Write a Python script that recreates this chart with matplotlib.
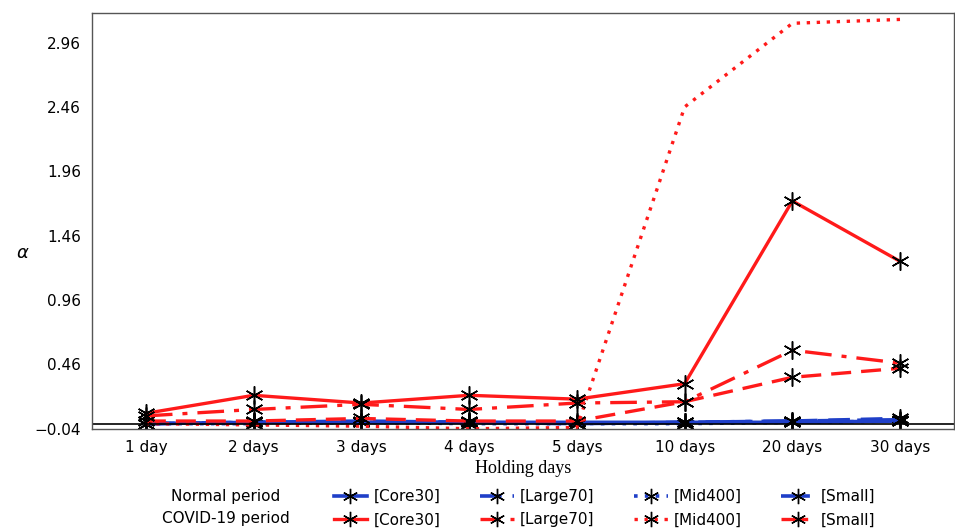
import matplotlib
matplotlib.use("Agg")
import matplotlib.pyplot as plt
from matplotlib.lines import Line2D

days = ["1 day", "2 days", "3 days", "4 days", "5 days", "10 days", "20 days", "30 days"]
series = ["[Core30]", "[Large70]", "[Mid400]", "[Small]"]

# Normal period
normal_core30 = [0.00, 0.01, 0.01, 0.01, 0.01, 0.01, 0.01, 0.02]
normal_large70 = [0.00, 0.01, 0.02, 0.01, 0.00, 0.01, 0.02, 0.04]
normal_mid400 = [0.00, 0.00, 0.01, 0.00, 0.00, 0.00, 0.01, 0.02]
normal_small = [0.00, 0.01, 0.01, 0.01, 0.00, 0.01, 0.02, 0.03]

# COVID-19 period
covid_core30 = [0.08, 0.22, 0.16, 0.22, 0.19, 0.31, 1.73, 1.26]
covid_large70 = [0.02, 0.02, 0.04, 0.02, 0.02, 0.17, 0.36, 0.43]
covid_mid400 = [0.00, -0.01, -0.02, -0.04, -0.03, 2.46, 3.11, 3.14]
covid_small = [0.06, 0.11, 0.15, 0.11, 0.16, 0.17, 0.57, 0.47]

yticks = [-0.04, 0.46, 0.96, 1.46, 1.96, 2.46, 2.96]

blue = "#1f3fc8"
red = "#ff1a1a"
styles = ["-", (0, (6, 3)), (0, (1, 2)), (0, (8, 3, 1.5, 3))]
star = (6, 2, 0)

fig = plt.figure(figsize=(9.55, 5.3), dpi=100)
ax = fig.add_axes([0.0963, 0.191, 0.9027, 0.7845])

x = list(range(len(days)))
normals = [normal_core30, normal_large70, normal_mid400, normal_small]
covids = [covid_core30, covid_large70, covid_mid400, covid_small]

for i in range(4):
    ax.plot(x, normals[i], color=blue, ls=styles[i], lw=2.6, marker=star,
            ms=13, mec="black", mew=1.1)
for i in range(4):
    ax.plot(x, covids[i], color=red, ls=styles[i], lw=2.4,
            marker=star if i != 2 else None, ms=13, mec="black", mew=1.1)

ax.axhline(0, color="black", lw=1.2)
ax.set_xlim(-0.5, 7.5)
ax.set_ylim(-0.04, 3.19)
ax.set_yticks(yticks)
ax.set_yticklabels(["\u22120.04", "0.46", "0.96", "1.46", "1.96", "2.46", "2.96"])
ax.set_xticks(x)
ax.set_xticklabels(days)
ax.tick_params(length=0, labelsize=11, pad=8)
for s in ax.spines.values():
    s.set_color("#555555")
    s.set_linewidth(1.0)

ax.set_xlabel("Holding days", family="Liberation Serif", fontsize=13, labelpad=4)
fig.text(0.023, 0.522, "α", fontsize=13, style="italic", ha="center", va="center")

# legend: columns are series, rows are periods
leg_handles = []
for i in range(4):
    leg_handles.append(Line2D([], [], color=blue, ls=styles[i], lw=2.6, marker=star, ms=11, mec="black"))
    leg_handles.append(Line2D([], [], color=red, ls=styles[i], lw=2.4, marker=star, ms=11, mec="black"))
leg_labels = []
for i in range(4):
    leg_labels += [series[i], series[i]]
fig.legend(leg_handles, leg_labels, ncol=4, loc="lower left", bbox_to_anchor=(0.335, -0.021),
           frameon=False, fontsize=11, handlelength=2.2, handletextpad=0.4,
           columnspacing=2.6, labelspacing=0.55)
fig.text(0.236, 0.064, "Normal period", fontsize=11, ha="center", va="center")
fig.text(0.236, 0.021, "COVID-19 period", fontsize=11, ha="center", va="center")

fig.savefig("out.png", dpi=100)
